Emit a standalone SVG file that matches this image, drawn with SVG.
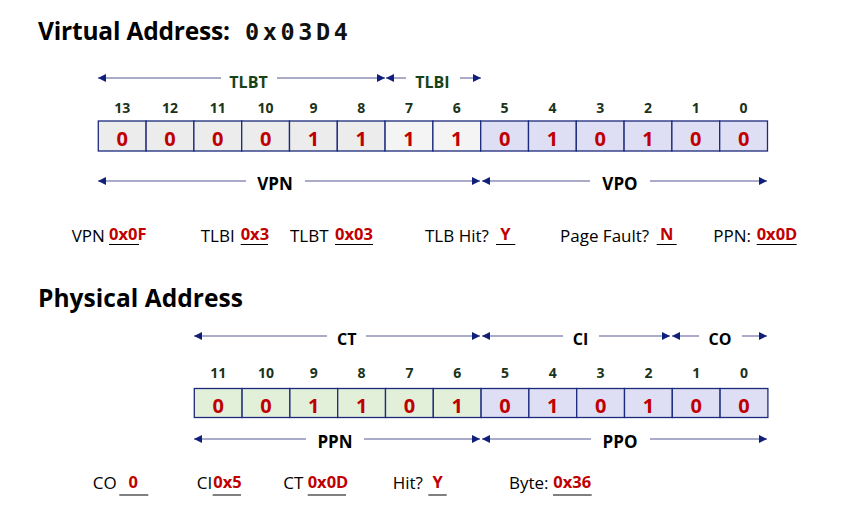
<svg xmlns="http://www.w3.org/2000/svg" width="866" height="516" viewBox="0 0 866 516">
<defs>
<marker id="ah" viewBox="0 0 8 8" markerUnits="userSpaceOnUse" markerWidth="8" markerHeight="8" refX="8" refY="4" orient="auto-start-reverse">
<path d="M0,0 L8,4 L0,8 z" fill="#0f1f7a"/>
</marker>
<style>
.title{font-family:"Open Sans","Noto Sans",sans-serif;font-weight:bold;font-size:24.5px;fill:#000}
.mono{font-family:"DejaVu Sans Mono","Liberation Mono",monospace;font-weight:bold;font-size:23.5px;fill:#111}
.bitn{font-family:"Open Sans","Noto Sans",sans-serif;font-weight:bold;font-size:14px;fill:#1a331a;text-anchor:middle}
.val{font-family:"Open Sans","Noto Sans",sans-serif;font-weight:bold;font-size:20px;fill:#c00000;text-anchor:middle}
.cell{stroke:#1c2a7c;stroke-width:1.3}
.g1{fill:#ececec}.g2{fill:#f4f4f4}.lav{fill:#dedff4}.grn{fill:#e2f0da}
.ln{stroke:#a9abc9;stroke-width:2;fill:none}
.lbl{font-family:"Open Sans","Noto Sans",sans-serif;font-weight:bold;font-size:16px;fill:#000;text-anchor:middle}
.lblg{fill:#174217}
.big{font-size:17px}
.txt{font-family:"Open Sans","Noto Sans",sans-serif;font-size:17px;fill:#000}
.rv{font-family:"Open Sans","Noto Sans",sans-serif;font-weight:bold;font-size:16.5px;fill:#c00000}
.ul{stroke:#000;stroke-width:1}
</style>
</defs>

<g id="title-virtual">
<text class="title" x="38" y="40" textLength="192">Virtual Address:</text>
<text class="mono" x="245" y="40" textLength="103">0x03D4</text>
</g>

<g id="virtual-register">
<g id="v13"><rect class="cell g1" x="98.3" y="121" width="47.8" height="30"/><text class="bitn" x="122.2" y="113">13</text><text class="val" x="122.2" y="145.5">0</text></g>
<g id="v12"><rect class="cell g1" x="146.1" y="121" width="47.8" height="30"/><text class="bitn" x="170" y="113">12</text><text class="val" x="170" y="145.5">0</text></g>
<g id="v11"><rect class="cell g1" x="193.9" y="121" width="47.8" height="30"/><text class="bitn" x="217.8" y="113">11</text><text class="val" x="217.8" y="145.5">0</text></g>
<g id="v10"><rect class="cell g1" x="241.7" y="121" width="47.8" height="30"/><text class="bitn" x="265.6" y="113">10</text><text class="val" x="265.6" y="145.5">0</text></g>
<g id="v9"><rect class="cell g1" x="289.5" y="121" width="47.8" height="30"/><text class="bitn" x="313.4" y="113">9</text><text class="val" x="313.4" y="145.5">1</text></g>
<g id="v8"><rect class="cell g1" x="337.3" y="121" width="47.8" height="30"/><text class="bitn" x="361.2" y="113">8</text><text class="val" x="361.2" y="145.5">1</text></g>
<g id="v7"><rect class="cell g2" x="385.1" y="121" width="47.8" height="30"/><text class="bitn" x="409" y="113">7</text><text class="val" x="409" y="145.5">1</text></g>
<g id="v6"><rect class="cell g2" x="432.9" y="121" width="47.8" height="30"/><text class="bitn" x="456.8" y="113">6</text><text class="val" x="456.8" y="145.5">1</text></g>
<g id="v5"><rect class="cell lav" x="480.7" y="121" width="47.8" height="30"/><text class="bitn" x="504.6" y="113">5</text><text class="val" x="504.6" y="145.5">0</text></g>
<g id="v4"><rect class="cell lav" x="528.5" y="121" width="47.8" height="30"/><text class="bitn" x="552.4" y="113">4</text><text class="val" x="552.4" y="145.5">1</text></g>
<g id="v3"><rect class="cell lav" x="576.3" y="121" width="47.8" height="30"/><text class="bitn" x="600.2" y="113">3</text><text class="val" x="600.2" y="145.5">0</text></g>
<g id="v2"><rect class="cell lav" x="624.1" y="121" width="47.8" height="30"/><text class="bitn" x="648" y="113">2</text><text class="val" x="648" y="145.5">1</text></g>
<g id="v1"><rect class="cell lav" x="671.9" y="121" width="47.8" height="30"/><text class="bitn" x="695.8" y="113">1</text><text class="val" x="695.8" y="145.5">0</text></g>
<g id="v0"><rect class="cell lav" x="719.7" y="121" width="47.8" height="30"/><text class="bitn" x="743.6" y="113">0</text><text class="val" x="743.6" y="145.5">0</text></g>
</g>

<g id="title-physical">
<text class="title" x="38" y="307" textLength="205">Physical Address</text>
</g>

<g id="physical-register">
<g id="p11"><rect class="cell grn" x="194.3" y="388.5" width="47.8" height="29"/><text class="bitn" x="218.2" y="378">11</text><text class="val" x="218.2" y="412.5">0</text></g>
<g id="p10"><rect class="cell grn" x="242.1" y="388.5" width="47.8" height="29"/><text class="bitn" x="266" y="378">10</text><text class="val" x="266" y="412.5">0</text></g>
<g id="p9"><rect class="cell grn" x="289.9" y="388.5" width="47.8" height="29"/><text class="bitn" x="313.8" y="378">9</text><text class="val" x="313.8" y="412.5">1</text></g>
<g id="p8"><rect class="cell grn" x="337.7" y="388.5" width="47.8" height="29"/><text class="bitn" x="361.6" y="378">8</text><text class="val" x="361.6" y="412.5">1</text></g>
<g id="p7"><rect class="cell grn" x="385.5" y="388.5" width="47.8" height="29"/><text class="bitn" x="409.4" y="378">7</text><text class="val" x="409.4" y="412.5">0</text></g>
<g id="p6"><rect class="cell grn" x="433.3" y="388.5" width="47.8" height="29"/><text class="bitn" x="457.2" y="378">6</text><text class="val" x="457.2" y="412.5">1</text></g>
<g id="p5"><rect class="cell lav" x="481.1" y="388.5" width="47.8" height="29"/><text class="bitn" x="505" y="378">5</text><text class="val" x="505" y="412.5">0</text></g>
<g id="p4"><rect class="cell lav" x="528.9" y="388.5" width="47.8" height="29"/><text class="bitn" x="552.8" y="378">4</text><text class="val" x="552.8" y="412.5">1</text></g>
<g id="p3"><rect class="cell lav" x="576.7" y="388.5" width="47.8" height="29"/><text class="bitn" x="600.6" y="378">3</text><text class="val" x="600.6" y="412.5">0</text></g>
<g id="p2"><rect class="cell lav" x="624.5" y="388.5" width="47.8" height="29"/><text class="bitn" x="648.4" y="378">2</text><text class="val" x="648.4" y="412.5">1</text></g>
<g id="p1"><rect class="cell lav" x="672.3" y="388.5" width="47.8" height="29"/><text class="bitn" x="696.2" y="378">1</text><text class="val" x="696.2" y="412.5">0</text></g>
<g id="p0"><rect class="cell lav" x="720.1" y="388.5" width="47.8" height="29"/><text class="bitn" x="744" y="378">0</text><text class="val" x="744" y="412.5">0</text></g>
</g>

<g id="connectors">
<!-- TLBT -->
<line class="ln" x1="98" y1="78" x2="221" y2="78" marker-start="url(#ah)"/>
<line class="ln" x1="277" y1="78" x2="385" y2="78" marker-end="url(#ah)"/>
<!-- TLBI -->
<line class="ln" x1="386" y1="78" x2="406" y2="78" marker-start="url(#ah)"/>
<line class="ln" x1="460" y1="78" x2="481" y2="78" marker-end="url(#ah)"/>
<!-- VPN -->
<line class="ln" x1="98" y1="181" x2="246" y2="181" marker-start="url(#ah)"/>
<line class="ln" x1="305" y1="181" x2="480" y2="181" marker-end="url(#ah)"/>
<!-- VPO -->
<line class="ln" x1="482" y1="181" x2="590" y2="181" marker-start="url(#ah)"/>
<line class="ln" x1="650" y1="181" x2="767" y2="181" marker-end="url(#ah)"/>
<!-- CT -->
<line class="ln" x1="194" y1="336" x2="327" y2="336" marker-start="url(#ah)"/>
<line class="ln" x1="366" y1="336" x2="480" y2="336" marker-end="url(#ah)"/>
<!-- CI -->
<line class="ln" x1="482" y1="336" x2="563" y2="336" marker-start="url(#ah)"/>
<line class="ln" x1="599" y1="336" x2="670" y2="336" marker-end="url(#ah)"/>
<!-- CO -->
<line class="ln" x1="672" y1="336" x2="699" y2="336" marker-start="url(#ah)"/>
<line class="ln" x1="742" y1="336" x2="767" y2="336" marker-end="url(#ah)"/>
<!-- PPN -->
<line class="ln" x1="194" y1="439" x2="306" y2="439" marker-start="url(#ah)"/>
<line class="ln" x1="364" y1="439" x2="480" y2="439" marker-end="url(#ah)"/>
<!-- PPO -->
<line class="ln" x1="482" y1="439" x2="591" y2="439" marker-start="url(#ah)"/>
<line class="ln" x1="650" y1="439" x2="767" y2="439" marker-end="url(#ah)"/>
</g>

<g id="field-labels">
<text class="lbl lblg" x="248.5" y="88">TLBT</text>
<text class="lbl lblg" x="432.5" y="88">TLBI</text>
<text class="lbl big" x="275" y="190">VPN</text>
<text class="lbl big" x="620" y="190">VPO</text>
<text class="lbl" x="346.7" y="345">CT</text>
<text class="lbl" x="580.5" y="345">CI</text>
<text class="lbl" x="720" y="345">CO</text>
<text class="lbl big" x="335" y="448">PPN</text>
<text class="lbl big" x="620" y="448">PPO</text>
</g>

<g id="translation-answers">
<text class="txt" x="71.7" y="241.5">VPN</text>
<text class="rv" x="109" y="240">0x0F</text>
<line class="ul" x1="109" y1="244.5" x2="139" y2="244.5"/>
<text class="txt" x="200.7" y="241.5">TLBI</text>
<text class="rv" x="240.7" y="240">0x3</text>
<line class="ul" x1="240.7" y1="244.5" x2="268" y2="244.5"/>
<text class="txt" x="290" y="241.5">TLBT</text>
<text class="rv" x="335" y="240">0x03</text>
<line class="ul" x1="335" y1="244.5" x2="373" y2="244.5"/>
<text class="txt" x="425" y="241.5">TLB Hit?</text>
<text class="rv" x="505.5" y="240" text-anchor="middle">Y</text>
<line class="ul" x1="496" y1="244.5" x2="515.3" y2="244.5"/>
<text class="txt" x="560" y="241.5">Page Fault?</text>
<text class="rv" x="666.7" y="240" text-anchor="middle">N</text>
<line class="ul" x1="656.7" y1="244.5" x2="676.7" y2="244.5"/>
<text class="txt" x="713.3" y="241.5">PPN:</text>
<text class="rv" x="756.7" y="240">0x0D</text>
<line class="ul" x1="756.7" y1="244.5" x2="796.7" y2="244.5"/>
</g>

<g id="cache-answers">
<text class="txt" x="92.7" y="489">CO</text>
<text class="rv" x="133.3" y="487.5" text-anchor="middle">0</text>
<line class="ul" x1="119.3" y1="495" x2="148.3" y2="495"/>
<text class="txt" x="196.7" y="489">CI</text>
<text class="rv" x="213.3" y="487.5">0x5</text>
<line class="ul" x1="212.7" y1="495" x2="241" y2="495"/>
<text class="txt" x="283.3" y="489">CT</text>
<text class="rv" x="307.7" y="487.5">0x0D</text>
<line class="ul" x1="307.7" y1="495" x2="346" y2="495"/>
<text class="txt" x="392.7" y="489">Hit?</text>
<text class="rv" x="437.7" y="487.5" text-anchor="middle">Y</text>
<line class="ul" x1="428.3" y1="495" x2="446.7" y2="495"/>
<text class="txt" x="509" y="489">Byte:</text>
<text class="rv" x="553.3" y="487.5">0x36</text>
<line class="ul" x1="553" y1="495" x2="591.7" y2="495"/>
</g>
</svg>
